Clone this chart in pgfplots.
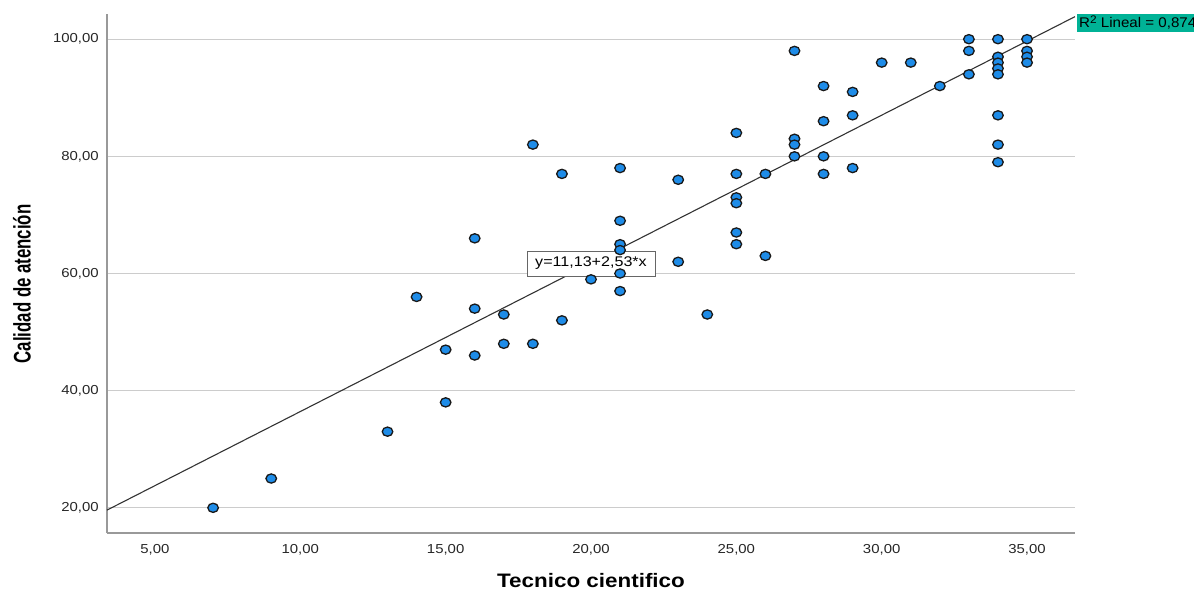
\documentclass[border=0pt]{standalone}
\usepackage{fontspec}
\setmainfont{Liberation Sans}
\setsansfont{Liberation Sans}
\usepackage{graphicx}
\usepackage{pgfplots}
\pgfplotsset{compat=1.18}
\definecolor{dotblue}{RGB}{30,140,232}
\definecolor{rteal}{RGB}{0,178,150}
\newcommand{\tl}[1]{\mbox{\sffamily #1}}
\begin{document}
\sffamily
\begin{tikzpicture}
\useasboundingbox (0,0) rectangle (1194pt,592pt);
\begin{axis}[
  at={(107pt,59pt)}, anchor=south west,
  scale only axis, width=968pt, height=519pt,
  xmin=3.35, xmax=36.65, ymin=15.7, ymax=104.3,
  axis x line*=bottom, axis y line*=left,
  axis line style={draw=black!40, line width=1.6pt, -},
  xtick={5,10,...,35}, ytick={20,40,...,100},
  xticklabels={\tl{5,00},\tl{10,00},\tl{15,00},\tl{20,00},\tl{25,00},\tl{30,00},\tl{35,00}},
  yticklabels={\tl{20,00},\tl{40,00},\tl{60,00},\tl{80,00},\tl{100,00}},
  major tick length=0pt,
  ymajorgrids, grid style={draw=black!20, line width=1.3pt},
  tick label style={font=\sffamily\fontsize{13}{13}\selectfont, text=black!85, inner sep=0pt},
  xticklabel style={anchor=north, yshift=-11pt, xscale=1.15},
  yticklabel style={anchor=east, xshift=-8pt, xscale=1.15},
  xlabel={\scalebox{1.15}[1]{\fontsize{19.5}{20}\selectfont\bfseries Tecnico cientifico}},
  ylabel={\scalebox{0.7}[1]{\fontsize{24}{24}\selectfont\bfseries Calidad de atención}},
  xlabel style={at={(axis description cs:0.5,-0.0925)}, anchor=center},
  ylabel style={at={(axis description cs:-0.088,0.48)}, anchor=center},
  clip=false,
]
\addplot[only marks, mark=*, mark size=4.6pt,
  mark options={fill=dotblue, draw=black!90, line width=1.3pt, xscale=1.15}]
coordinates {
(7,20) (9,25) (13,33) (14,56) (15,47) (15,38) (16,66) (16,54) (16,46)
(17,53) (17,48) (18,82) (18,48) (19,77) (19,52) (20,59)
(21,78) (21,69) (21,65) (21,64) (21,60) (21,57)
(23,76) (23,62) (24,53)
(25,84) (25,77) (25,73) (25,72) (25,67) (25,65)
(26,77) (26,63)
(27,98) (27,83) (27,82) (27,80)
(28,92) (28,86) (28,80) (28,77)
(29,91) (29,87) (29,78)
(30,96) (31,96) (32,92)
(33,100) (33,98) (33,94)
(34,100) (34,97) (34,96) (34,95) (34,94) (34,87) (34,82) (34,79)
(35,100) (35,98) (35,97) (35,96)
};
\addplot[no marks, draw=black!80, line width=1.1pt] coordinates {(3.35,19.61) (36.65,103.85)};
\node[draw=black!60, fill=white, line width=0.9pt, inner sep=0pt,
  minimum width=128pt, minimum height=25pt, font=\sffamily\fontsize{14}{14}\selectfont]
  at (axis cs:20,61.7) {\scalebox{1.15}[1]{y=11,13+2,53*x}};
\node[fill=rteal, inner sep=0pt, anchor=west, minimum height=18pt,
  font=\sffamily\fontsize{14}{14}\selectfont, text=black]
  at (axis cs:36.70,102.76) {\scalebox{1.08}[1]{\,R{\fontsize{11}{11}\selectfont\raisebox{4pt}{2}} Lineal = 0,874\,}};
\end{axis}
\end{tikzpicture}
\end{document}
